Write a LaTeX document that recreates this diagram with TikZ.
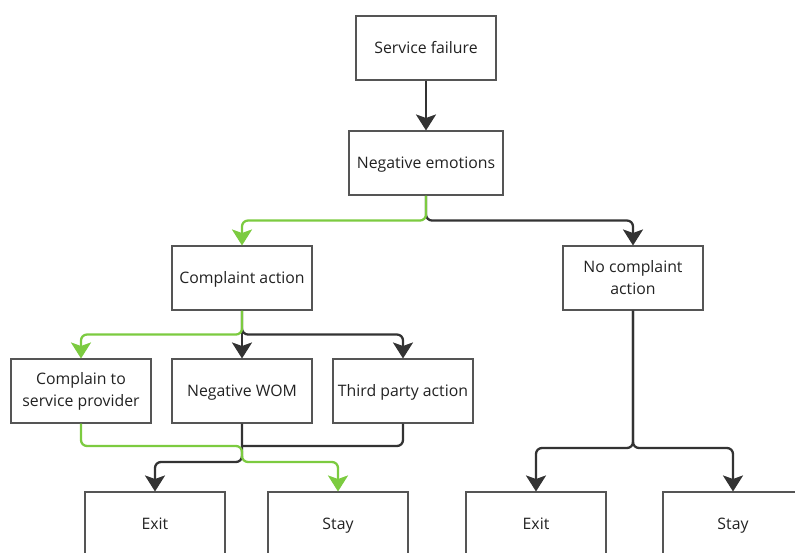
\documentclass[tikz,border=0pt]{standalone}
\usepackage{fontspec}
\setmainfont{Open Sans}
\usepackage{xcolor}
\usepackage{tikz}
\usetikzlibrary{arrows.meta}
\definecolor{linedark}{HTML}{333333}
\definecolor{linegreen}{HTML}{7CCB40}
\definecolor{boxline}{HTML}{555555}
\definecolor{txt}{HTML}{222222}

\begin{document}
\begin{tikzpicture}[x=0.02cm, y=-0.02cm,
  box/.style={draw=boxline, line width=0.6pt, fill=white, minimum width=2.8cm, minimum height=1.28cm, align=center, inner sep=2pt, text=txt, font=\fontsize{9}{12.5}\selectfont},
  oneline/.style={box, text height=1.55ex, text depth=0.4ex},
  blk/.style={draw=linedark, line width=1.3pt, rounded corners=0.12cm, -{Stealth[length=0.32cm, width=0.4cm, inset=0.07cm]}},
  grn/.style={blk, draw=linegreen},
  mergeline/.style={draw=linedark, line width=1.3pt, rounded corners=0.12cm}]
  \clip (0,0) rectangle (795,552);
  \node[oneline] (sf)   at (426,48)  {Service failure};
  \node[oneline, minimum width=3.08cm] (ne) at (426,163) {Negative emotions};
  \node[oneline] (ca)   at (242,278) {Complaint action};
  \node[box]     (nca)  at (633,278) {No complaint\\action};
  \node[box]     (csp)  at (81,391)  {Complain to\\service provider};
  \node[oneline] (nwom) at (242,391) {Negative WOM};
  \node[oneline] (tpa)  at (403,391) {Third party action};
  \node[oneline] (exl)  at (155,524) {Exit};
  \node[oneline] (stl)  at (338,524) {Stay};
  \node[oneline] (exr)  at (536,524) {Exit};
  \node[oneline] (str)  at (733,524) {Stay};
  \coordinate (mrg) at (242,446);
  \coordinate (spl) at (242,462);
  \coordinate (nsp) at (633,448);
  \draw[blk] (sf) -- (ne);
  \draw[blk] (ne.south) -- ++(0,25) -| (nca.north);
  \draw[grn] (ne.south) -- ++(0,25) -| (ca.north);
  \draw[blk] (ca.south) -- ++(0,24) -| (tpa.north);
  \draw[blk] (ca) -- (nwom);
  \draw[grn] (ca.south) -- ++(0,24) -| (csp.north);
  \draw[mergeline] (tpa.south) |- (mrg);
  \draw[blk] (nwom.south) -- (spl) -| (exl.north);
  \draw[grn] (csp.south) |- (mrg) -- (spl) -| (stl.north);
  \draw[blk] (nca.south) -- (nsp) -| (exr.north);
  \draw[blk] (nca.south) -- (nsp) -| (str.north);
\end{tikzpicture}
\end{document}
